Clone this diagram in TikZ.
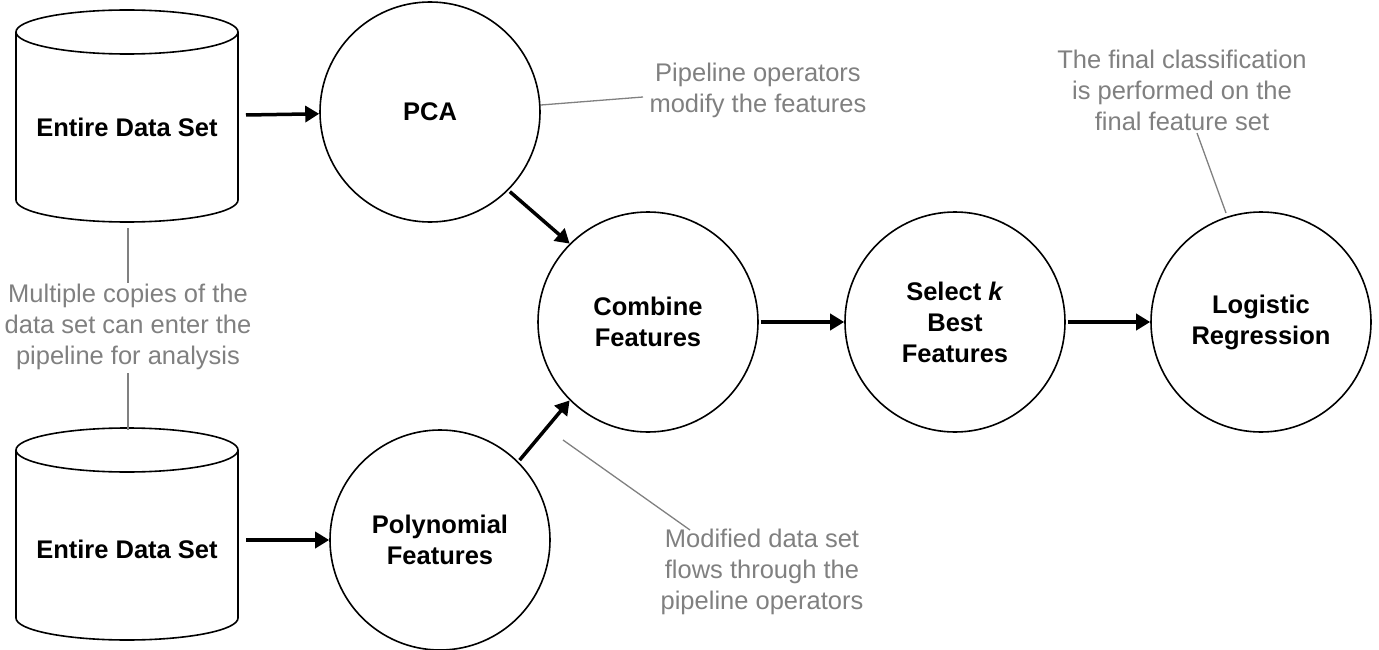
\documentclass[tikz,border=0pt]{standalone}
\usepackage{fontspec}
\setmainfont{Liberation Sans}
\usetikzlibrary{arrows.meta}
\begin{document}
\begin{tikzpicture}[x=1pt,y=-1pt,
 circ/.style={circle,draw,line width=1.6pt,minimum size=220pt,inner sep=0pt,align=center,font=\fontsize{25.5}{31}\selectfont\bfseries},
 lbl/.style={align=center,font=\fontsize{25.5}{31}\selectfont\bfseries},
 ann/.style={align=center,text=black!50,font=\fontsize{25.5}{31}\selectfont},
 arr/.style={line width=3.5pt,-{Triangle[length=14pt,width=16pt]}},
 lead/.style={draw=black!50,line width=1.3pt}]
\useasboundingbox (0,0) rectangle (1379,650);
% cylinders
\foreach \t in {10,428}{
 \draw[line width=1.6pt] (16,\t+22) arc[x radius=111,y radius=22,start angle=180,end angle=-180];
 \draw[line width=1.6pt] (16,\t+22) -- (16,\t+190) arc[x radius=111,y radius=22,start angle=180,end angle=0] -- (238,\t+22);
}
\node[lbl] (ds1) at (127,127) {Entire Data Set};
\node[lbl] (ds2) at (127,549) {Entire Data Set};
\coordinate (c1r) at (246,115);
\coordinate (c2r) at (246,540);
\coordinate (c1b) at (128,228);
\coordinate (c2t) at (128,430);
\node[circ] (pca) at (430,112) {PCA};
\node[circ] (poly) at (440,540) {Polynomial\\Features};
\node[circ] (comb) at (648,322) {Combine\\Features};
\node[circ] (sel) at (955,322) {Select \textit{k}\\Best\\Features};
\node[circ] (log) at (1261,322) {Logistic\\Regression};
\draw[arr] (c1r) -- (pca);
\draw[arr] (c2r) -- (poly);
\draw[arr,shorten <=2pt] (pca.-45) -- (comb.135);
\draw[arr,shorten <=2pt] (poly.45) -- (comb.-135);
\draw[arr,shorten <=2pt] (comb) -- (sel);
\draw[arr,shorten <=2pt] (sel) -- (log);
% annotations
\node[ann] (a1) at (758,90) {Pipeline operators\\modify the features};
\node[ann] (a2) at (128,327) {Multiple copies of the\\data set can enter the\\pipeline for analysis};
\node[ann] (a3) at (762,572) {Modified data set\\flows through the\\pipeline operators};
\node[ann] (a4) at (1182,90) {The final classification\\is performed on the\\final feature set};
\coordinate (p1) at (541,105);
\coordinate (p1e) at (643,97);
\draw[lead] (p1) -- (p1e);
\draw[lead] (c1b) -- (128,283);
\draw[lead] (128,373) -- (c2t);
\coordinate (p3) at (563,440);
\coordinate (p3e) at (690,530);
\draw[lead] (p3) -- (p3e);
\coordinate (p4) at (1197,133);
\coordinate (p4e) at (1226,213);
\draw[lead] (p4) -- (p4e);
\end{tikzpicture}
\end{document}
